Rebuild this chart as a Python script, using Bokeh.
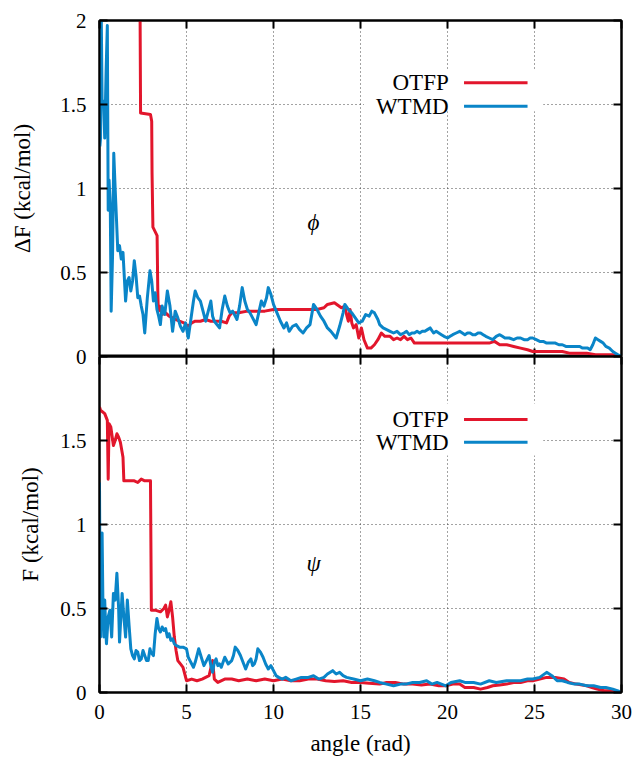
import math
from bokeh.plotting import figure
from bokeh.layouts import column
from bokeh.models import Range1d, LinearAxis, FixedTicker, Label, BoxAnnotation, Arrow
from bokeh.embed import file_html
from bokeh.resources import INLINE

# ---------------- data ----------------
x_ticks = [0, 5, 10, 15, 20, 25, 30]
x_tick_labels = ["0", "5", "10", "15", "20", "25", "30"]
top_y_ticks = [0.5, 1, 1.5, 2]
top_y_labels = ["0.5", "1", "1.5", "2"]
# the bottom panel also carries the shared "0" of the upper panel at its top edge
bottom_y_ticks = [0, 0.5, 1, 1.5, 2]
bottom_y_labels = ["0", "0.5", "1", "1.5", "0"]
series_names = ["OTFP", "WTMD"]
top_ylabel = "\u0394F (kcal/mol)"
bottom_ylabel = "F (kcal/mol)"
xlabel = "angle (rad)"

# phi panel (Delta F)
phi_otfp_x = [0.0, 1.2, 2.25, 2.32, 2.36, 2.93, 3.0, 3.02, 3.07, 3.12, 3.31, 3.35, 3.38, 3.45, 3.6, 3.8,
              4.0, 4.2, 4.4, 4.6, 4.85, 5.1, 5.3, 5.5, 5.8, 6.1, 6.4, 6.7, 7.0, 7.3, 7.45, 7.6, 8.0, 8.5,
              9.0, 9.5, 10.0, 10.5, 11.0, 11.5, 12.0, 12.5, 12.9, 13.1, 13.5, 13.9, 14.1, 14.2, 14.3,
              14.4, 14.5, 14.6, 14.75, 14.9, 15.05, 15.2, 15.4, 15.6, 15.8, 16.0, 16.2, 16.4, 16.7, 16.9,
              17.1, 17.3, 17.5, 17.7, 17.9, 18.1, 18.3, 19.0, 20.0, 21.0, 22.0, 22.4, 22.7, 23.0, 23.4,
              23.8, 24.2, 24.6, 24.9, 25.5, 26.0, 26.6, 27.0, 27.5, 28.0, 28.5, 29.0, 29.5, 29.8, 30.0]
phi_otfp_y = [3.4, 3.0, 2.5, 2.3, 1.45, 1.44, 1.40, 1.09, 0.77, 0.76, 0.72, 0.39, 0.27, 0.30, 0.25, 0.26,
              0.24, 0.23, 0.22, 0.21, 0.20, 0.18, 0.20, 0.21, 0.21, 0.22, 0.21, 0.21, 0.21, 0.20, 0.24, 0.26,
              0.26, 0.27, 0.27, 0.27, 0.28, 0.28, 0.28, 0.28, 0.28, 0.28, 0.29, 0.31, 0.32, 0.29, 0.30, 0.25,
              0.21, 0.28, 0.20, 0.17, 0.19, 0.11, 0.17, 0.10, 0.05, 0.05, 0.07, 0.10, 0.14, 0.12, 0.12, 0.10,
              0.11, 0.10, 0.12, 0.10, 0.11, 0.08, 0.08, 0.08, 0.08, 0.08, 0.08, 0.08, 0.09, 0.07, 0.07,
              0.06, 0.05, 0.04, 0.03, 0.03, 0.03, 0.03, 0.02, 0.02, 0.02, 0.01, 0.01, 0.01, 0.0, 0.0]

phi_wtmd_x = [0.02, 0.06, 0.10, 0.15, 0.23, 0.30, 0.38, 0.45, 0.50, 0.55, 0.62, 0.67, 0.75, 0.82, 0.90,
              0.97, 1.05, 1.15, 1.25, 1.35, 1.5, 1.6, 1.7, 1.8, 1.9, 2.0, 2.1, 2.2, 2.3, 2.4, 2.5, 2.6,
              2.75, 2.9, 3.0, 3.1, 3.2, 3.3, 3.4, 3.5, 3.6, 3.75, 3.9, 4.05, 4.2, 4.35, 4.5, 4.65, 4.8,
              4.95, 5.1, 5.25, 5.4, 5.5, 5.65, 5.8, 5.95, 6.1, 6.25, 6.4, 6.5, 6.6, 6.75, 6.9, 7.05, 7.2,
              7.35, 7.5, 7.65, 7.8, 7.9, 8.05, 8.2, 8.35, 8.5, 8.65, 8.8, 9.0, 9.15, 9.3, 9.45, 9.6, 9.7,
              9.85, 10.0, 10.2, 10.4, 10.6, 10.75, 10.9, 11.1, 11.3, 11.5, 11.7, 11.9, 12.1, 12.3, 12.5,
              12.7, 12.9, 13.1, 13.3, 13.6, 13.8, 14.0, 14.1, 14.3, 14.5, 14.7, 14.9, 15.1, 15.3, 15.5,
              15.65, 15.8, 16.0, 16.1, 16.3, 16.5, 16.7, 16.9, 17.1, 17.3, 17.5, 17.65, 17.8, 17.95, 18.1,
              18.25, 18.4, 18.55, 18.7, 18.85, 19.0, 19.2, 19.35, 19.5, 19.65, 19.8, 20.0, 20.15, 20.3,
              20.5, 20.7, 20.85, 21.0, 21.15, 21.3, 21.45, 21.6, 21.75, 21.9, 22.05, 22.2, 22.4, 22.6,
              22.8, 23.0, 23.15, 23.3, 23.55, 23.8, 24.0, 24.2, 24.4, 24.6, 24.75, 24.9, 25.1, 25.3,
              25.5, 25.7, 25.85, 26.0, 26.2, 26.4, 26.6, 26.8, 27.0, 27.2, 27.4, 27.6, 27.75, 27.9,
              28.05, 28.2, 28.35, 28.5, 28.65, 28.8, 28.95, 29.1, 29.3, 29.5, 29.65, 29.8, 30.0]
phi_wtmd_y = [1.25, 1.30, 2.05, 1.50, 1.52, 1.30, 1.70, 1.97, 0.87, 1.05, 0.90, 0.27, 0.60, 1.21, 1.00,
              0.83, 0.63, 0.66, 0.58, 0.62, 0.33, 0.45, 0.47, 0.39, 0.45, 0.57, 0.48, 0.35, 0.36, 0.30, 0.25, 0.14,
              0.35, 0.51, 0.45, 0.33, 0.38, 0.28, 0.24, 0.19, 0.30, 0.25, 0.39, 0.30, 0.15, 0.27, 0.23, 0.18, 0.15,
              0.20, 0.11, 0.22, 0.33, 0.39, 0.35, 0.33, 0.27, 0.21, 0.27, 0.33, 0.24, 0.21, 0.19, 0.17, 0.28, 0.36,
              0.30, 0.26, 0.27, 0.24, 0.22, 0.30, 0.41, 0.33, 0.28, 0.26, 0.23, 0.19, 0.26, 0.33, 0.30, 0.35, 0.41,
              0.37, 0.31, 0.26, 0.21, 0.17, 0.20, 0.15, 0.18, 0.19, 0.16, 0.14, 0.17, 0.19, 0.31, 0.28,
              0.24, 0.21, 0.17, 0.15, 0.11, 0.18, 0.26, 0.31, 0.28, 0.26, 0.23, 0.20, 0.21, 0.25, 0.24,
              0.27, 0.26, 0.22, 0.19, 0.17, 0.16, 0.15, 0.14, 0.15, 0.13, 0.14, 0.15, 0.13, 0.14, 0.14,
              0.15, 0.14, 0.15, 0.15, 0.16, 0.17, 0.14, 0.15, 0.14, 0.13, 0.12, 0.11, 0.12, 0.13,
              0.14, 0.15, 0.14, 0.13, 0.14, 0.14, 0.13, 0.13, 0.14, 0.14, 0.13, 0.12, 0.11, 0.10,
              0.12, 0.13, 0.12, 0.11, 0.11, 0.10, 0.11, 0.11, 0.10, 0.10, 0.11, 0.11, 0.10, 0.09,
              0.09, 0.08, 0.08, 0.08, 0.08, 0.07, 0.07, 0.06, 0.06, 0.06, 0.06, 0.06, 0.05, 0.05,
              0.05, 0.04, 0.07, 0.11, 0.10, 0.09, 0.08, 0.06, 0.05, 0.03, 0.02, 0.01, 0.0]

# psi panel (F)
psi_otfp_x = [0.0, 0.06, 0.3, 0.45, 0.5, 0.55, 0.65, 0.8, 0.9, 1.0, 1.1, 1.2, 1.35, 1.4, 1.7, 2.0, 2.2,
              2.4, 2.6, 2.93, 2.98, 3.2, 3.5, 3.7, 3.8, 3.9, 4.0, 4.1, 4.2, 4.3, 4.4, 4.5, 4.65, 4.8, 5.0,
              5.3, 5.6, 5.9, 6.1, 6.3, 6.5, 6.6, 6.8, 7.2, 7.6, 8.0, 8.5, 9.0, 9.5, 10.0, 10.5, 11.0,
              11.5, 12.0, 12.5, 13.0, 13.5, 14.0, 14.5, 15.0, 15.5, 16.1, 16.5, 17.0, 17.5, 18.0, 18.5,
              19.0, 19.5, 19.9, 20.3, 20.7, 21.0, 21.5, 21.9, 22.3, 22.6, 23.0, 23.4, 23.8, 24.2, 24.6,
              24.9, 25.3, 25.7, 26.2, 26.7, 27.0, 27.4, 28.0, 28.3, 28.6, 29.0, 29.5, 30.0]
psi_otfp_y = [1.70, 1.68, 1.66, 1.62, 1.27, 1.60, 1.58, 1.47, 1.50, 1.54, 1.52, 1.49, 1.40, 1.26, 1.26, 1.26, 1.25,
              1.27, 1.26, 1.26, 0.49, 0.49, 0.48, 0.50, 0.52, 0.45, 0.49, 0.54, 0.45, 0.33, 0.25, 0.19, 0.17, 0.15, 0.07,
              0.08, 0.07, 0.08, 0.09, 0.10, 0.19, 0.08, 0.06, 0.08, 0.08, 0.07, 0.08, 0.07, 0.08, 0.07, 0.08, 0.07,
              0.07, 0.08, 0.08, 0.07, 0.065, 0.07, 0.06, 0.06, 0.055, 0.05, 0.06, 0.06, 0.05, 0.05, 0.045,
              0.05, 0.04, 0.04, 0.05, 0.05, 0.03, 0.03, 0.02, 0.03, 0.04, 0.045, 0.05, 0.06, 0.06, 0.07,
              0.07, 0.08, 0.09, 0.09, 0.08, 0.06, 0.05, 0.04, 0.03, 0.02, 0.01, 0.01, 0.0]

psi_wtmd_x = [0.0, 0.03, 0.06, 0.10, 0.15, 0.2, 0.25, 0.3, 0.35, 0.4, 0.5, 0.6, 0.7, 0.8, 0.9, 1.0, 1.1,
              1.15, 1.3, 1.4, 1.5, 1.6, 1.7, 1.8, 1.9, 2.0, 2.1, 2.2, 2.3, 2.4, 2.5, 2.6, 2.7, 2.8, 2.9,
              2.95, 3.1, 3.2, 3.3, 3.4, 3.5, 3.6, 3.7, 3.8, 3.9, 4.0, 4.1, 4.2, 4.3, 4.4, 4.6, 4.8, 5.0,
              5.1, 5.2, 5.3, 5.4, 5.5, 5.7, 5.85, 6.0, 6.15, 6.3, 6.4, 6.5, 6.6, 6.7, 6.8, 6.9, 7.0, 7.2,
              7.4, 7.6, 7.7, 7.8, 7.95, 8.1, 8.25, 8.4, 8.55, 8.7, 8.8, 8.9, 9.0, 9.1, 9.25, 9.4, 9.55,
              9.7, 9.85, 10.0, 10.15, 10.3, 10.5, 10.7, 11.0, 11.3, 11.6, 12.0, 12.3, 12.6, 12.9, 13.1,
              13.4, 13.6, 13.8, 14.0, 14.2, 14.6, 15.0, 15.4, 15.8, 16.1, 16.5, 16.9, 17.3, 17.6, 18.0,
              18.4, 18.8, 19.1, 19.4, 19.9, 20.2, 20.7, 21.0, 21.5, 21.9, 22.4, 22.8, 23.4, 23.8, 24.2,
              24.6, 24.9, 25.3, 25.7, 26.0, 26.3, 26.6, 26.9, 27.3, 27.6, 28.0, 28.4, 28.8, 29.1, 29.5,
              29.8, 30.0]
psi_wtmd_y = [1.25, 0.60, 0.33, 0.70, 0.95, 0.50, 0.33, 0.55, 0.40, 0.29, 0.45, 0.49, 0.33, 0.59, 0.55, 0.71, 0.50,
              0.30, 0.59, 0.45, 0.33, 0.55, 0.40, 0.26, 0.22, 0.20, 0.25, 0.24, 0.19, 0.20, 0.25, 0.22, 0.19, 0.19, 0.26,
              0.24, 0.22, 0.35, 0.44, 0.38, 0.36, 0.39, 0.37, 0.38, 0.33, 0.35, 0.31, 0.32, 0.29, 0.28, 0.27, 0.27, 0.26,
              0.21, 0.19, 0.17, 0.15, 0.18, 0.26, 0.21, 0.16, 0.19, 0.22, 0.16, 0.12, 0.18, 0.20, 0.16, 0.17, 0.15, 0.21,
              0.17, 0.19, 0.22, 0.27, 0.25, 0.22, 0.18, 0.14, 0.18, 0.20, 0.16, 0.17, 0.20, 0.26, 0.24, 0.21, 0.17,
              0.14, 0.16, 0.13, 0.10, 0.09, 0.08, 0.09, 0.07, 0.08, 0.09, 0.09, 0.10, 0.08, 0.09, 0.11,
              0.13, 0.11, 0.12, 0.10, 0.09, 0.08, 0.07, 0.08, 0.07, 0.06, 0.05, 0.04, 0.05, 0.05, 0.06,
              0.06, 0.07, 0.05, 0.06, 0.04, 0.06, 0.07, 0.06, 0.06, 0.05, 0.07, 0.06, 0.07, 0.07, 0.07,
              0.08, 0.08, 0.09, 0.12, 0.10, 0.07, 0.07, 0.06, 0.05, 0.05, 0.04, 0.04, 0.03, 0.03, 0.02,
              0.01, 0.0]

# ---------------- style ----------------
RED = "#e2162c"
BLUE = "#0a85c8"
FONT = "serif"
TICK_FS = "21px"
LABEL_FS = "23px"
KEY_FS = "23px"
OVERLAP = 14  # top border of the lower panel, overlapped onto the upper panel


def style_axis(ax, ticks, show_labels, overrides=None, standoff=13):
    ax.ticker = FixedTicker(ticks=ticks)
    ax.major_tick_in = 8
    ax.major_tick_out = 0
    ax.minor_tick_line_color = None
    ax.major_tick_line_width = 2
    ax.major_tick_line_color = "black"
    ax.axis_line_color = "black"
    ax.axis_line_width = 2
    ax.major_label_text_font = FONT
    if show_labels:
        ax.major_label_text_font_size = TICK_FS
        ax.major_label_text_color = "black"
        ax.major_label_standoff = standoff
        if overrides:
            ax.major_label_overrides = overrides
    else:
        ax.major_label_text_font_size = "1px"
        ax.major_label_text_color = None
        ax.major_label_standoff = 0


def make_panel(height, border_top, border_bottom, ylabel, yticks, ylabels, show_x, ylabel_standoff):
    p = figure(width=636, height=height, output_backend="svg", toolbar_location=None,
               x_range=Range1d(0, 30), y_range=Range1d(0, 2),
               x_axis_location="below" if show_x else "above", y_axis_location="left",
               min_border_left=99, min_border_right=15,
               min_border_top=border_top, min_border_bottom=border_bottom)
    p.background_fill_color = "white"
    p.outline_line_color = "black"
    p.outline_line_width = 2
    right_axis = LinearAxis()
    p.add_layout(right_axis, "right")
    if show_x:
        top_axis = LinearAxis()
        p.add_layout(top_axis, "above")
        style_axis(top_axis, x_ticks, False)
        bx = p.below[0]
        style_axis(bx, x_ticks, True, {t: l for t, l in zip(x_ticks, x_tick_labels)}, 12)
        bx.axis_label = xlabel
        bx.axis_label_text_font = FONT
        bx.axis_label_text_font_size = LABEL_FS
        bx.axis_label_text_font_style = "normal"
        bx.axis_label_text_color = "black"
        bx.axis_label_standoff = 9
    else:
        style_axis(p.above[0], x_ticks, False)
    style_axis(right_axis, yticks, False)
    ly = p.left[0]
    style_axis(ly, yticks, True, {t: l for t, l in zip(yticks, ylabels)}, 13)
    ly.axis_label = ylabel
    ly.axis_label_text_font = FONT
    ly.axis_label_text_font_size = LABEL_FS
    ly.axis_label_text_font_style = "normal"
    ly.axis_label_text_color = "black"
    ly.axis_label_standoff = ylabel_standoff

    p.xgrid.ticker = FixedTicker(ticks=x_ticks)
    p.ygrid.ticker = FixedTicker(ticks=yticks)
    for g in [p.xgrid[0], p.ygrid[0]]:
        g.grid_line_color = "#333333"
        g.grid_line_dash = "1 3"
        g.grid_line_width = 1
        g.grid_line_alpha = 0.9
    return p


def add_key(p, box_bottom, box_top, y1, y2):
    p.add_layout(BoxAnnotation(left=15.2, right=25.5, bottom=box_bottom, top=box_top,
                               fill_color="white", fill_alpha=1, line_color=None))
    for name, col, yy in zip(series_names, [RED, BLUE], [y1, y2]):
        p.add_layout(Label(x=20.07, y=yy, text=name, text_align="right", text_baseline="middle",
                           text_font=FONT, text_font_size=KEY_FS, text_color="black"))
        p.add_layout(Arrow(end=None, x_start=20.95, y_start=yy, x_end=24.6, y_end=yy,
                           line_color=col, line_width=3))


# ---- upper panel (phi) ----
p1 = make_panel(356, 20, 0, top_ylabel, top_y_ticks, top_y_labels, False, 22)
# inward ticks on the shared lower edge
p1.scatter(x_ticks[1:-1], [0] * (len(x_ticks) - 2), marker="dash", size=16, angle=math.pi / 2,
           line_color="black", line_width=2)
p1.line(phi_otfp_x, phi_otfp_y, line_color=RED, line_width=3, line_join="round")
p1.line(phi_wtmd_x, phi_wtmd_y, line_color=BLUE, line_width=3, line_join="round")
add_key(p1, 1.46, 1.70, 1.63, 1.49)
p1.add_layout(Label(x=12.3, y=0.80, text="\u03d5", text_align="center", text_baseline="middle",
                    text_font=FONT, text_font_size="23px", text_font_style="italic", text_color="black"))

# ---- lower panel (psi) ----
p2 = make_panel(OVERLAP + 336 + 72, OVERLAP, 72, bottom_ylabel, bottom_y_ticks, bottom_y_labels, True, 14)
p2.border_fill_alpha = 0
p2.margin = (-OVERLAP, 0, 0, 0)
p2.line(psi_otfp_x, psi_otfp_y, line_color=RED, line_width=3, line_join="round")
p2.line(psi_wtmd_x, psi_wtmd_y, line_color=BLUE, line_width=3, line_join="round")
add_key(p2, 1.41, 1.72, 1.625, 1.49)
p2.add_layout(Label(x=12.3, y=0.77, text="\u03c8", text_align="center", text_baseline="middle",
                    text_font=FONT, text_font_size="23px", text_font_style="italic", text_color="black"))

layout = column(p1, p2, spacing=0)
open("out.html", "w").write(file_html(layout, INLINE))
